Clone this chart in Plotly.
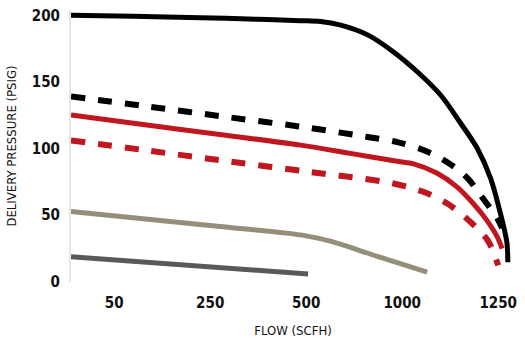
import plotly.graph_objects as go

# x positions are in tick-slot units (tick labels 50,250,500,1000,1250 are evenly spaced)
tick_pos = [1, 2, 3, 4, 5]
tick_text = ["50", "250", "500", "1000", "1250"]
y_ticks = [0, 50, 100, 150, 200]

black_x = [0.55, 1.2, 1.9, 2.5, 2.94, 3.15, 3.35, 3.64, 3.91, 4.16, 4.40, 4.60, 4.78, 4.92, 5.02, 5.09, 5.10]
black_y = [200, 199.3, 198.2, 197, 196, 195.3, 192.8, 185.3, 172.5, 157.4, 140.1, 119.8, 100.2, 77.6, 52, 29.4, 14.3]

black_dash_x = [0.55, 1.3, 2.2, 3.04, 3.64, 3.95, 4.22, 4.47, 4.68, 4.84, 4.99, 5.04]
black_dash_y = [139, 131.9, 123.3, 115.3, 108.5, 104.7, 98.7, 89.6, 77.6, 62.5, 47.5, 40]

red_x = [0.55, 1.3, 2.1, 2.94, 3.46, 3.98, 4.11, 4.36, 4.57, 4.74, 4.88, 4.99, 5.04]
red_y = [125, 117.9, 110.4, 102.4, 96.2, 89.9, 88.5, 81.4, 71, 58.5, 46, 33.4, 24.6]

red_dash_x = [0.55, 1.3, 2.2, 3.04, 3.91, 4.22, 4.47, 4.69, 4.89, 5.0]
red_dash_y = [106, 98.8, 90.1, 82.2, 73.6, 67.3, 58.5, 46, 30.9, 12]

tan_x = [0.55, 1.3, 2.1, 2.75, 3.0, 3.25, 3.75, 4.26]
tan_y = [52.6, 47.1, 41.3, 36.6, 34.2, 30.2, 18.6, 7]

gray_x = [0.55, 3.02]
gray_y = [18.5, 5.5]

FONT = "Liberation Sans Narrow, DejaVu Sans Condensed, Roboto Condensed, Arial Narrow, sans-serif"

fig = go.Figure()

def add(x, y, color, width, dash=None, spline=True):
    fig.add_trace(go.Scatter(
        x=x, y=y, mode="lines",
        line=dict(color=color, width=width, dash=dash,
                  shape="spline" if spline else "linear", smoothing=0.9),
        hoverinfo="skip", showlegend=False))

add(gray_x, gray_y, "#58595b", 5, spline=False)
add(tan_x, tan_y, "#958e78", 5)
add(red_dash_x, red_dash_y, "#c0161f", 6, dash="14px,13px")
add(red_x, red_y, "#c0161f", 5)
add(black_dash_x, black_dash_y, "#000000", 6, dash="14px,13px")
add(black_x, black_y, "#000000", 5)

fig.update_layout(
    width=525, height=341,
    margin=dict(l=71, r=10, t=10, b=59),
    paper_bgcolor="white", plot_bgcolor="white",
    font=dict(family=FONT, color="#111111"),
    xaxis=dict(
        range=[0.55, 0.55 + 444 / 96], tickvals=tick_pos, ticktext=tick_text,
        showgrid=False, zeroline=False, showline=False, ticks="",
        automargin=False,
        tickfont=dict(size=15, family=FONT, weight="bold"),
        ticklabelstandoff=10,
        title=dict(text="FLOW (SCFH)", font=dict(size=13, family=FONT), standoff=14),
    ),
    yaxis=dict(
        range=[-0.5, 204], tickvals=y_ticks,
        showgrid=False, zeroline=False, showline=True,
        linecolor="#e6e6e6", linewidth=2, ticks="",
        automargin=False,
        tickfont=dict(size=15, family=FONT, weight="bold"),
        ticklabelstandoff=6,
        title=dict(text="DELIVERY PRESSURE (PSIG)", font=dict(size=13, family=FONT), standoff=12),
    ),
)

fig.write_html("out.html", config={"displayModeBar": False},
               post_script="document.body.style.margin='0';document.body.style.overflow='hidden';")
